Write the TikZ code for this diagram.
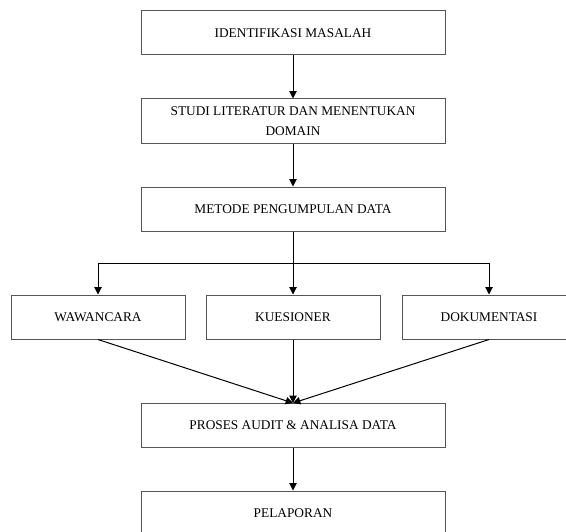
\documentclass[tikz,border=0pt]{standalone}
\usepackage{fontspec}
\setmainfont{Liberation Serif}
\usetikzlibrary{arrows.meta,positioning}

\begin{document}
\begin{tikzpicture}[x=0.75pt,y=0.75pt,yscale=-1,xscale=1,
  stage/.style={draw={rgb,255:red,85;green,85;blue,85},line width=0.75pt,
    minimum width=228pt,minimum height=33pt,inner sep=0.75pt,
    align=center,font=\fontsize{10}{15}\selectfont},
  method/.style={stage,minimum width=130.5pt},
  flow/.style={draw=black,line width=0.75pt,-{Triangle[length=5.5pt,width=5.5pt]}}]
\useasboundingbox (0,0) rectangle (566,531);

%Flowchart: Process
\node [stage] (ident) at (293,33) {IDENTIFIKASI MASALAH};
%Flowchart: Process
\node [stage] (studi) at (293,121) {STUDI LITERATUR DAN MENENTUKAN\\DOMAIN};
%Flowchart: Process
\node [stage] (metode) at (293,209) {METODE PENGUMPULAN DATA};

%Flowchart: Process
\node [method] (wawan) at (98,317) {WAWANCARA};
%Flowchart: Process
\node [method] (kues) at (293,317) {KUESIONER};
%Flowchart: Process
\node [method] (doku) at (489,317) {DOKUMENTASI};

%Flowchart: Process
\node [stage] (proses) at (293,425.5) {PROSES AUDIT \& ANALISA DATA};
%Flowchart: Process
\node [stage] (lapor) at (293,513) {PELAPORAN};

%Straight Lines
\draw [flow] (ident) -- (studi);
\draw [flow] (studi) -- (metode);
%Straight Lines
\coordinate (split) at (293,263);
\draw [flow] (metode) -- (kues);
\draw [flow] (split) -| (wawan);
\draw [flow] (split) -| (doku);
%Straight Lines
\draw [flow] (wawan.south) -- (proses.north);
\draw [flow] (kues) -- (proses);
\draw [flow] (doku.south) -- (proses.north);
\draw [flow] (proses) -- (lapor);

\end{tikzpicture}
\end{document}
